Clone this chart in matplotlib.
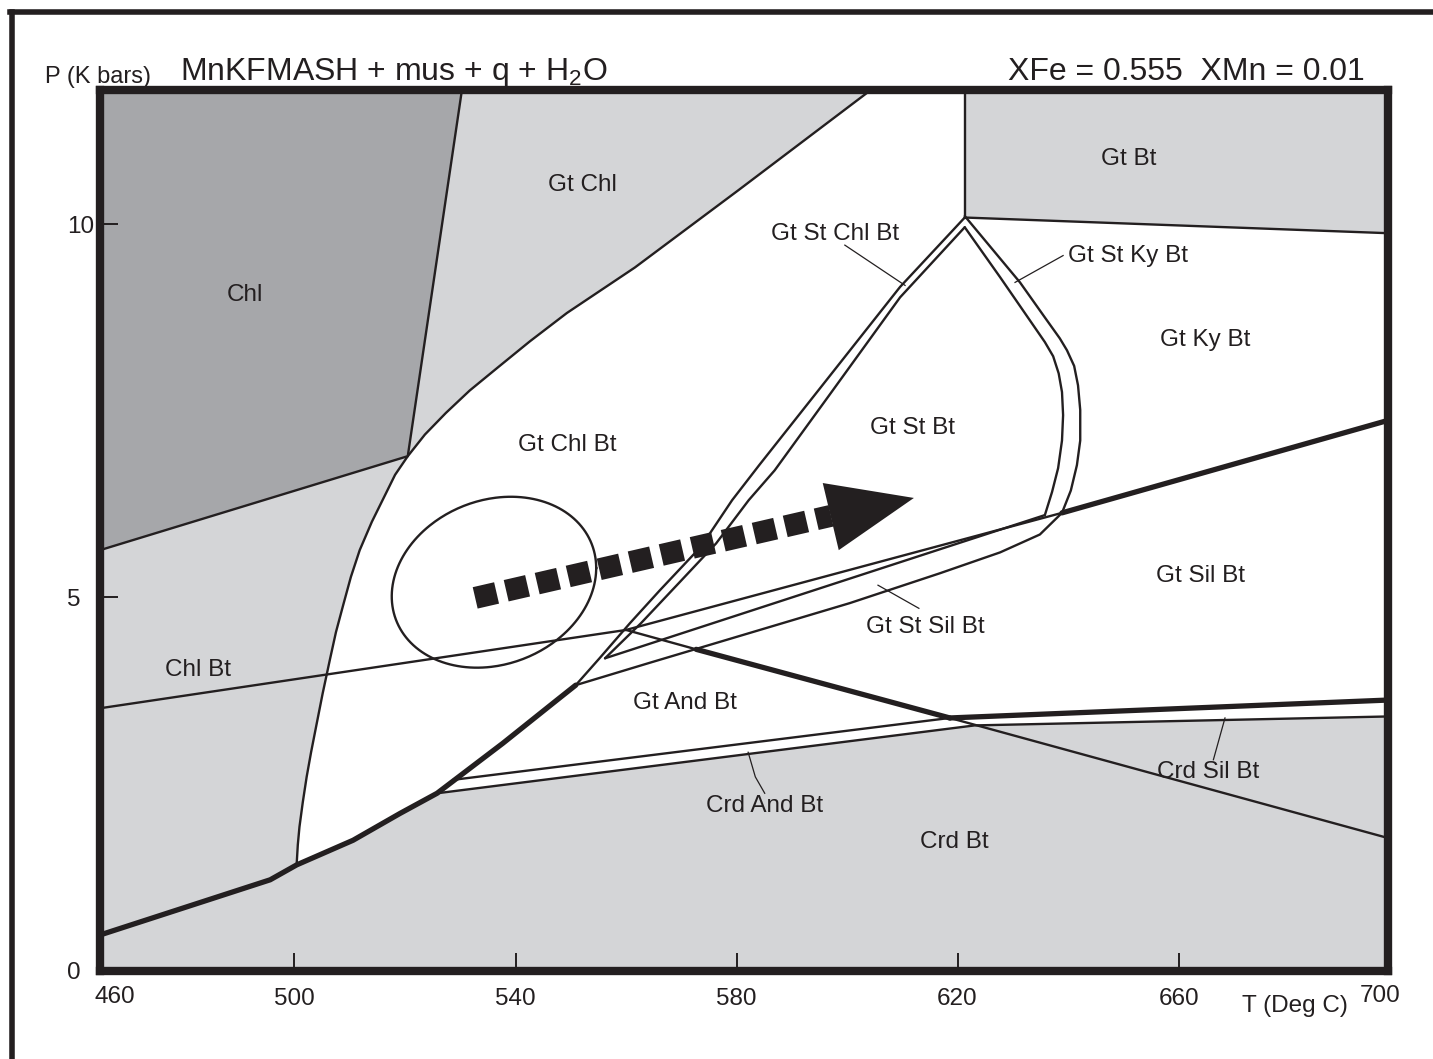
import numpy as np
import matplotlib.pyplot as plt
from matplotlib.lines import Line2D

plt.rcParams['font.family'] = ['Liberation Sans', 'DejaVu Sans']
plt.rcParams['mathtext.fontset'] = 'custom'
plt.rcParams['mathtext.rm'] = 'Liberation Sans'

INK = '#231f20'
LIGHT = '#d4d5d7'
DARK = '#a6a7aa'

# axis range (T in deg C, P in kbar)
T_MIN, T_MAX = 464.8, 697.9
P_MIN, P_MAX = -0.013, 11.8

# --- phase boundaries (T, P) ---
# Chl / Gt Chl and Chl / Chl Bt
CHL_T = [530.3, 520.5, T_MIN]
CHL_P = [P_MAX, 6.89, 5.63]

# outer edge of the Gt Chl Bt field
C1_T = [604.3, 580.4, 561.6, 549.3, 542.6, 536.8, 531.7, 527.4, 523.6, 520.5, 518.2, 516.2,
        514.0, 511.8, 510.2, 508.8, 507.5, 506.4, 505.1, 503.9, 503.0, 502.2, 501.5, 500.9,
        500.6, 500.4]
C1_P = [P_MAX, 10.46, 9.42, 8.81, 8.43, 8.08, 7.77, 7.47, 7.18, 6.89, 6.64, 6.34,
        6.01, 5.63, 5.27, 4.89, 4.53, 4.16, 3.71, 3.26, 2.92, 2.59, 2.25, 1.92,
        1.68, 1.43]

# thick lower boundary of the garnet fields
E_T = [T_MIN, 495.6, 500.4, 510.6, 519.1, 525.8, 537.7, 547.5, 550.9]
E_P = [0.47, 1.21, 1.41, 1.74, 2.10, 2.37, 3.04, 3.62, 3.82]

# Gt St Chl Bt band
GSC_O_T = [550.9, 555.2, 560.7, 566.1, 573.6, 579.2, 584.1, 595.1, 609.6, 621.3]
GSC_O_P = [3.82, 4.18, 4.65, 5.09, 5.68, 6.30, 6.77, 7.80, 9.16, 10.09]
GSC_I_T = [556.2, 562.7, 569.7, 576.3, 582.2, 586.9, 596.9, 609.6, 621.3]
GSC_I_P = [4.18, 4.65, 5.20, 5.72, 6.30, 6.70, 7.72, 9.02, 9.96]

# Gt St Ky Bt band
GSK_O_T = [621.3, 631.3, 635.8, 638.5, 639.8, 641.1, 641.8, 642.2, 642.2, 641.6, 640.5, 638.9]
GSK_O_P = [10.11, 9.22, 8.75, 8.47, 8.31, 8.10, 7.84, 7.51, 7.10, 6.77, 6.43, 6.13]
GSK_I_T = [621.3, 627.7, 633.1, 635.8, 637.3, 638.3, 638.9, 639.1, 638.9, 638.2, 637.1, 635.8]
GSK_I_P = [9.96, 9.29, 8.71, 8.42, 8.23, 8.00, 7.75, 7.44, 7.10, 6.73, 6.41, 6.10]

# Gt Bt lower edge and vertical
GTBT_T = [621.3, T_MAX]
GTBT_P = [10.09, 9.88]
VERT_T = [621.3, 621.3]
VERT_P = [P_MAX, 10.09]

# Chl Bt line continuing to the thick Gt Sil Bt boundary
L1_T = [T_MIN, 560.0, 638.9, T_MAX]
L1_P = [3.51, 4.56, 6.13, 7.37]
# Gt St Sil Bt wedge
L2_T = [556.2, 635.8]
L2_P = [4.18, 6.10]
L3_T = [550.9, 564.3, 582.4, 600.5, 616.8, 627.7, 634.9, 638.9]
L3_P = [3.82, 4.12, 4.52, 4.92, 5.32, 5.60, 5.84, 6.13]

# descending line (Gt And Bt top, Crd Sil Bt)
B_T = [560.0, 572.7, 618.6, T_MAX]
B_P = [4.56, 4.30, 3.38, 1.77]

# Crd And Bt band
CABU_T = [528.7, 618.6, T_MAX]
CABU_P = [2.55, 3.38, 3.62]
CABL_T = [525.8, 623.1, T_MAX]
CABL_P = [2.37, 3.28, 3.40]

# P-T path arrow and ellipse
ARROW_T = [532.7, 597.1]
ARROW_P = [4.99, 6.09]
HEAD_T = [595.6, 612.1, 598.5]
HEAD_P = [6.53, 6.33, 5.63]
ELL_T, ELL_P = 536.1, 5.20
ELL_A, ELL_B, ELL_C = 18.5, 1.13, 0.19

# field labels: name, T, P, alignment
LABELS = [
    ('Chl', 491.0, 9.05, 'center'), ('Gt Chl', 552.2, 10.52, 'center'),
    ('Gt Chl Bt', 549.3, 7.04, 'center'), ('Gt St Chl Bt', 597.8, 9.87, 'center'),
    ('Gt St Ky Bt', 640.0, 9.57, 'left'), ('Gt Bt', 650.9, 10.88, 'center'),
    ('Gt Ky Bt', 664.8, 8.45, 'center'), ('Gt St Bt', 611.8, 7.27, 'center'),
    ('Gt Sil Bt', 663.9, 5.28, 'center'), ('Gt St Sil Bt', 614.1, 4.60, 'center'),
    ('Chl Bt', 482.5, 4.02, 'center'), ('Gt And Bt', 570.7, 3.58, 'center'),
    ('Crd And Bt', 585.1, 2.20, 'center'), ('Crd Bt', 619.5, 1.72, 'center'),
    ('Crd Sil Bt', 665.3, 2.65, 'center'),
]
LEADERS = [
    ([599.6, 610.5], [9.72, 9.18]),
    ([639.1, 630.4], [9.58, 9.22]),
    ([605.6, 613.0], [5.16, 4.85]),
    ([582.1, 583.4, 585.1], [2.92, 2.59, 2.37]),
    ([668.4, 666.3], [3.38, 2.82]),
]

X_TICKS = [500, 540, 580, 620, 660]
Y_TICKS = [0, 5, 10]

fig = plt.figure(figsize=(14.33, 10.59), dpi=100)
ax = fig.add_axes([100 / 1433, 88 / 1059, 1288 / 1433, 881 / 1059])
ax.set_xlim(T_MIN, T_MAX)
ax.set_ylim(P_MIN, P_MAX)
ax.set_facecolor(LIGHT)

# white (garnet) fields
white_T = C1_T + E_T[2:6] + CABL_T[1:] + GTBT_T[::-1] + [VERT_T[0]]
white_P = C1_P + E_P[2:6] + CABL_P[1:] + GTBT_P[::-1] + [VERT_P[0]]
ax.fill(white_T, white_P, color='white', lw=0, zorder=1)
ax.fill([T_MIN] + CHL_T, [P_MAX] + CHL_P, color=DARK, lw=0, zorder=1)

thin = dict(color=INK, lw=1.7, zorder=3, solid_capstyle='round', solid_joinstyle='round')
thick = dict(color=INK, lw=3.8, zorder=3, solid_capstyle='round', solid_joinstyle='round')

ax.plot(CHL_T, CHL_P, **thin)
ax.plot(C1_T, C1_P, **thin)
ax.plot(E_T, E_P, **thick)
ax.plot(GSC_O_T, GSC_O_P, **thin)
ax.plot(GSC_I_T, GSC_I_P, **thin)
ax.plot(GSK_O_T, GSK_O_P, **thin)
ax.plot(GSK_I_T, GSK_I_P, **thin)
ax.plot(GTBT_T, GTBT_P, **thin)
ax.plot(VERT_T, VERT_P, **thin)
ax.plot(L1_T[:3], L1_P[:3], **thin)
ax.plot(L1_T[2:], L1_P[2:], **thick)
ax.plot(L2_T, L2_P, **thin)
ax.plot(L3_T, L3_P, **thin)
ax.plot(B_T[:2], B_P[:2], **thin)
ax.plot(B_T[1:3], B_P[1:3], **thick)
ax.plot(B_T[2:], B_P[2:], **thin)
ax.plot(CABU_T[:2], CABU_P[:2], **thin)
ax.plot(CABU_T[1:], CABU_P[1:], **thick)
ax.plot(CABL_T, CABL_P, **thin)

for lt, lp in LEADERS:
    ax.plot(lt, lp, color=INK, lw=0.9, zorder=3)

# ellipse around the starting conditions
t = np.linspace(0, 2 * np.pi, 300)
ax.plot(ELL_T + ELL_A * np.cos(t), ELL_P + ELL_B * np.sin(t) + ELL_C * np.cos(t),
        color=INK, lw=1.7, zorder=4)

# dashed P-T path arrow
ax.plot(ARROW_T, ARROW_P, color=INK, lw=15.8, linestyle=(0, (1.0, 0.45)),
        dash_capstyle='butt', zorder=5)
ax.fill(HEAD_T, HEAD_P, color=INK, lw=0, zorder=5)

for name, tx, py, ha in LABELS:
    ax.text(tx, py, name, fontsize=17.5, color=INK, ha=ha, va='center', zorder=6)

# frame and ticks
for s in ax.spines.values():
    s.set_linewidth(6)
    s.set_color(INK)
    s.set_zorder(10)
ax.set_xticks(X_TICKS)
ax.set_xticklabels([str(v) for v in X_TICKS])
ax.set_yticks(Y_TICKS)
ax.set_yticklabels([str(v) for v in Y_TICKS], ha='left')
ax.tick_params(axis='x', direction='in', length=13, width=1.4, color=INK,
               labelsize=17.5, labelcolor=INK, pad=12)
ax.tick_params(axis='y', direction='in', length=13, width=1.4, color=INK,
               labelsize=17.5, labelcolor=INK, pad=24)

ax.text(0.0116, -0.0295, '460', transform=ax.transAxes, fontsize=17.5,
        color=INK, ha='center', va='center')
ax.text(0.9938, -0.0285, '700', transform=ax.transAxes, fontsize=17.5,
        color=INK, ha='center', va='center')
ax.text(0.928, -0.040, 'T (Deg C)', transform=ax.transAxes, fontsize=17.5,
        color=INK, ha='center', va='center')

fig.text(98 / 1433, 1 - 83 / 1059, 'P (K bars)', fontsize=17, color=INK,
         ha='center', va='baseline')
fig.text(180 / 1433, 1 - 80 / 1059, r'MnKFMASH + mus + q + H$_2$O', fontsize=23,
         color=INK, ha='left', va='baseline')
fig.text(1365 / 1433, 1 - 80 / 1059, 'XFe = 0.555  XMn = 0.01', fontsize=23,
         color=INK, ha='right', va='baseline')

# outer border
fig.add_artist(Line2D([12 / 1433, 12 / 1433], [0, 1 - 12 / 1059],
                      transform=fig.transFigure, color=INK, lw=4))
fig.add_artist(Line2D([10 / 1433, 1], [1 - 12 / 1059, 1 - 12 / 1059],
                      transform=fig.transFigure, color=INK, lw=4))

fig.savefig('out.png', dpi=100)
